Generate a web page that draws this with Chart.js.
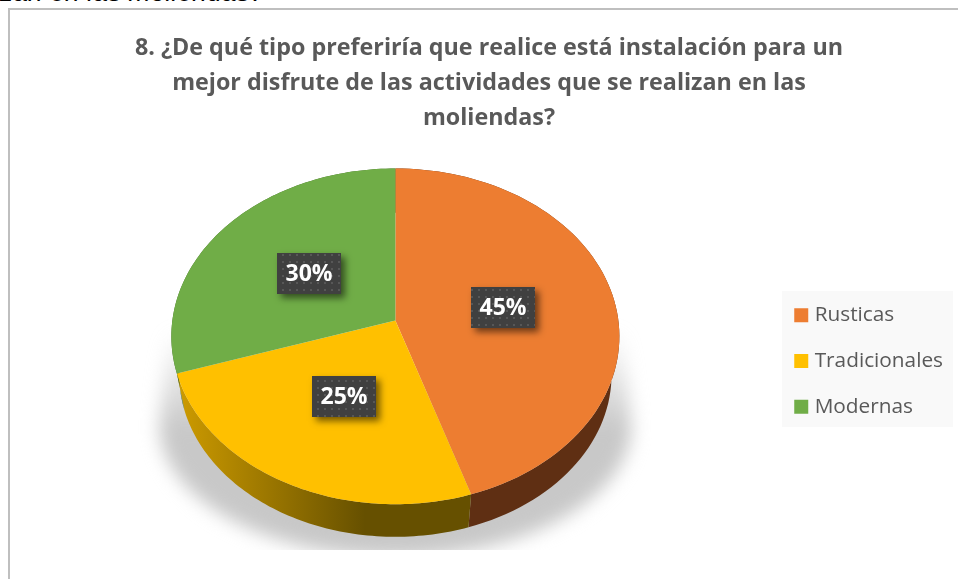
<!DOCTYPE html>
<html>
<head>
<meta charset="utf-8">
<title>Molienda</title>
<script src="https://cdn.jsdelivr.net/npm/chart.js@4"></script>
<style>
html, body { margin: 0; padding: 0; background: #fff; overflow: hidden; }
#wrap { position: relative; width: 958px; height: 579px; overflow: hidden; }
#above { position: absolute; left: 0; top: -23px; font: italic 26.6px "Liberation Sans", Arial, sans-serif; color: #000; white-space: nowrap; }
#frame { position: absolute; left: 8px; top: 8px; width: 958px; height: 600px; border: 2px solid #bfbfbf; box-sizing: border-box; }
#box { position: absolute; left: 0; top: 0; width: 958px; height: 579px; }
</style>
</head>
<body>
<div id="wrap">
  <div id="above">zan en las moliendas?</div>
  <div id="frame"></div>
  <div id="box"><canvas id="myChart" width="958" height="579"></canvas></div>
</div>
<script>
var categories = ['Rusticas', 'Tradicionales', 'Modernas'];
var values = [45, 25, 30];
var titleLines = [
    '8. ¿De qué tipo preferiría que realice está instalación para un',
    'mejor disfrute de las actividades que se realizan en las',
    'moliendas?'
];
var colors = ['#ed7d31', '#ffc000', '#70ad47'];
var sideColors = ['#5f2f13', '#665000', '#43682b'];

// tilt of the 3d look
var squash = 0.746, persp = -0.095, wallDrop = 39, wallScale = 0.965;

// circle point -> screen, with perspective so the apex sits above the ellipse middle
function project(arc, ang, r, drop, scale) {
    var u = Math.cos(ang) * r, v = Math.sin(ang) * r;
    var w = 1 + persp * v;
    return {
        x: arc.x + arc.outerRadius * u / w * scale,
        y: arc.y + drop + arc.outerRadius * squash * v / w * scale
    };
}

function arcPoints(arc, drop, scale) {
    var pts = [], n = 80;
    for (var i = 0; i <= n; i++) {
        pts.push(project(arc, arc.startAngle + (arc.endAngle - arc.startAngle) * i / n, 1, drop, scale));
    }
    return pts;
}

function trace(ctx, pts) {
    pts.forEach(function (p, i) { i ? ctx.lineTo(p.x, p.y) : ctx.moveTo(p.x, p.y); });
}

function dotPattern(ctx) {
    var c = document.createElement('canvas');
    c.width = 7; c.height = 7;
    var p = c.getContext('2d');
    p.fillStyle = '#404040';
    p.fillRect(0, 0, 7, 7);
    p.fillStyle = '#575757';
    p.fillRect(2, 2, 2, 2);
    return ctx.createPattern(c, 'repeat');
}

var pie3d = {
    id: 'pie3d',
    afterLayout: function (chart) {
        // title and legend sit off the middle in the original
        chart.titleBlock.left += 3.75;
        chart.titleBlock.right += 3.75;
        chart.legend.top += 98;
        chart.legend.bottom += 98;
    },
    beforeDraw: function (chart) {
        // legend backing
        var ctx = chart.ctx;
        ctx.fillStyle = '#f9f9f9';
        ctx.fillRect(782, 291, 171, 136);
    },
    beforeDatasetDraw: function (chart, args) {
        var ctx = chart.ctx, arcs = args.meta.data;
        var first = arcs[0];

        // soft floor shadow, cut off flat at the bottom
        ctx.save();
        ctx.beginPath();
        ctx.rect(120, 300, 560, 250);
        ctx.clip();
        ctx.filter = 'blur(9px)';
        var shade = ctx.createLinearGradient(0, 330, 0, 430);
        shade.addColorStop(0, 'rgba(200,200,200,0)');
        shade.addColorStop(1, 'rgba(200,200,200,1)');
        ctx.fillStyle = shade;
        ctx.beginPath();
        ctx.moveTo(first.x - 226, 320);
        ctx.lineTo(first.x - 236, 425);
        ctx.ellipse(first.x, 425, 236, 132, 0, Math.PI, 0, true);
        ctx.lineTo(first.x + 226, 320);
        ctx.closePath();
        ctx.fill();
        ctx.restore();

        // side wall
        arcs.forEach(function (arc, i) {
            var top = arcPoints(arc, 0, 1), low = arcPoints(arc, wallDrop, wallScale).reverse();
            var fill = sideColors[i];
            if (i === 1) {
                fill = ctx.createLinearGradient(180, 0, 365, 0);
                fill.addColorStop(0, '#cc9a00');
                fill.addColorStop(1, sideColors[i]);
            }
            ctx.fillStyle = fill;
            ctx.beginPath();
            trace(ctx, top.concat(low));
            ctx.closePath();
            ctx.fill();
        });

        // top face
        arcs.forEach(function (arc, i) {
            ctx.fillStyle = colors[i];
            ctx.beginPath();
            trace(ctx, [{ x: arc.x, y: arc.y }].concat(arcPoints(arc, 0, 1)));
            ctx.closePath();
            ctx.fill();
        });

        // value tags
        var pat = dotPattern(ctx);
        arcs.forEach(function (arc, i) {
            var c = project(arc, (arc.startAngle + arc.endAngle) / 2, 0.49, 0, 1);
            var bw = 64, bh = 41;
            var lx = Math.round(c.x - bw / 2), ly = Math.round(c.y - bh / 2);
            ctx.save();
            ctx.shadowColor = 'rgba(0,0,0,0.55)';
            ctx.shadowBlur = 7;
            ctx.shadowOffsetX = 4;
            ctx.shadowOffsetY = 4;
            ctx.fillStyle = '#404040';
            ctx.fillRect(lx, ly, bw, bh);
            ctx.restore();
            ctx.fillStyle = pat;
            ctx.fillRect(lx, ly, bw, bh);
            ctx.fillStyle = '#fff';
            ctx.font = 'bold 23px "Open Sans"';
            ctx.textAlign = 'center';
            ctx.textBaseline = 'middle';
            ctx.fillText(values[i] + '%', lx + bw / 2, ly + bh / 2 + 1);
        });
        return false;
    }
};

var ctx = document.getElementById('myChart').getContext('2d');
var chart = new Chart(ctx, {
    type: 'pie',
    data: {
        labels: categories,
        datasets: [{
            data: values,
            backgroundColor: colors,
            borderWidth: 0
        }]
    },
    options: {
        responsive: false,
        animation: false,
        radius: 223,
        layout: { padding: { left: 17.5, right: 5, top: 31, bottom: 84 } },
        plugins: {
            tooltip: { enabled: false },
            title: {
                display: true,
                text: titleLines,
                color: '#595959',
                font: { family: '"Open Sans"', size: 23.3, weight: 'bold', lineHeight: 1.5 },
                padding: { top: 0, bottom: 10 }
            },
            legend: {
                position: 'right',
                labels: {
                    color: '#595959',
                    font: { family: '"Open Sans"', size: 20.8 },
                    usePointStyle: true,
                    pointStyle: 'rect',
                    boxWidth: 6,
                    boxHeight: 14,
                    padding: 25
                }
            }
        }
    },
    plugins: [pie3d]
});
</script>
</body>
</html>
